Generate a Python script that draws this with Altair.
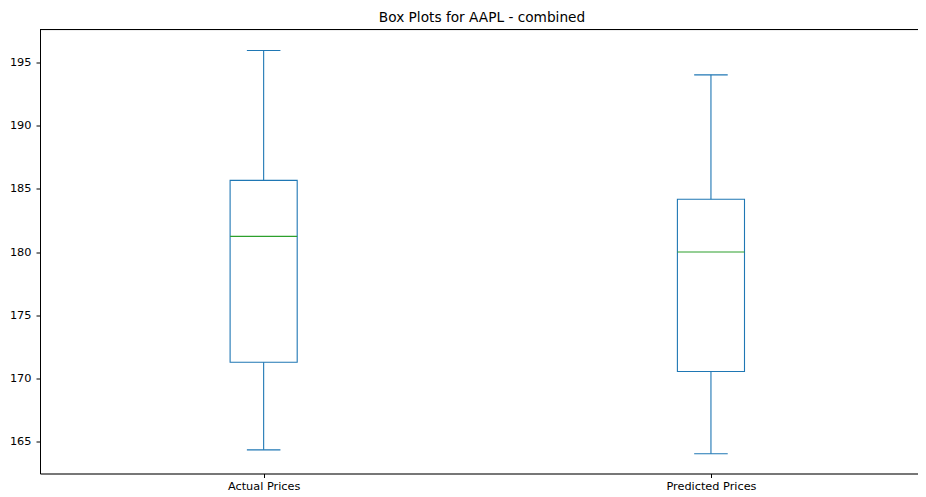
import altair as alt
import pandas as pd

# Data
categories = ["Actual Prices", "Predicted Prices"]
positions = [1, 2]
whisker_low = [164.34, 164.03]
q1 = [171.28, 170.54]
median = [181.24, 180.00]
q3 = [185.67, 184.17]
whisker_high = [195.95, 194.02]

y_ticks = [165, 170, 175, 180, 185, 190, 195]

BOX_HALF = 0.075
CAP_HALF = 0.0375

df = pd.DataFrame({
    "name": categories,
    "pos": positions,
    "low": whisker_low,
    "q1": q1,
    "median": median,
    "q3": q3,
    "high": whisker_high,
})

BLUE = "#1f77b4"
GREEN = "#2ca02c"
FONT = "DejaVu Sans"

W = 878
H = 444

xscale = alt.Scale(domain=[0.5, 0.5 + W / 447.3], nice=False, zero=False)
yscale = alt.Scale(domain=[162.47, 197.61], nice=False, zero=False)

label_expr = "datum.value == 1 ? 'Actual Prices' : (datum.value == 2 ? 'Predicted Prices' : '')"

xaxis = alt.Axis(values=positions, labelExpr=label_expr, title=None, grid=False,
                 domainColor="black", tickColor="black", tickSize=4, labelPadding=3,
                 labelFont=FONT, labelFontSize=11.3, labelColor="black", labelAngle=0)
yaxis = alt.Axis(values=y_ticks, title=None, grid=False,
                 domainColor="black", tickColor="black", tickSize=4, labelPadding=5,
                 labelFont=FONT, labelFontSize=11.3, labelColor="black")

base = alt.Chart(df).transform_calculate(
    bx1=f"datum.pos - {BOX_HALF}", bx2=f"datum.pos + {BOX_HALF}",
    cx1=f"datum.pos - {CAP_HALF}", cx2=f"datum.pos + {CAP_HALF}",
)

whisk_lo = base.mark_rule(color=BLUE, strokeWidth=1.1).encode(
    x=alt.X("pos:Q", scale=xscale, axis=xaxis),
    y=alt.Y("low:Q", scale=yscale, axis=yaxis),
    y2="q1:Q",
)
whisk_hi = base.mark_rule(color=BLUE, strokeWidth=1.1).encode(
    x=alt.X("pos:Q", scale=xscale), y=alt.Y("q3:Q", scale=yscale), y2="high:Q",
)
cap_lo = base.mark_rule(color=BLUE, strokeWidth=1.1).encode(
    x=alt.X("cx1:Q", scale=xscale), x2="cx2:Q", y=alt.Y("low:Q", scale=yscale),
)
cap_hi = base.mark_rule(color=BLUE, strokeWidth=1.1).encode(
    x=alt.X("cx1:Q", scale=xscale), x2="cx2:Q", y=alt.Y("high:Q", scale=yscale),
)
box = base.mark_rect(fill=None, fillOpacity=0, stroke=BLUE, strokeWidth=1.1).encode(
    x=alt.X("bx1:Q", scale=xscale), x2="bx2:Q",
    y=alt.Y("q1:Q", scale=yscale), y2="q3:Q",
)
med = base.mark_rule(color=GREEN, strokeWidth=1.1).encode(
    x=alt.X("bx1:Q", scale=xscale), x2="bx2:Q", y=alt.Y("median:Q", scale=yscale),
)
top_frame = alt.Chart(df).mark_rule(color="black", strokeWidth=1).encode(
    x=alt.value(0), x2=alt.value(W), y=alt.value(0),
)

chart = alt.layer(whisk_lo, whisk_hi, cap_lo, cap_hi, box, med, top_frame).properties(
    width=W, height=H,
    title=alt.TitleParams("Box Plots for AAPL - combined", font=FONT, fontSize=13.7,
                          fontWeight="normal", color="black", anchor="middle",
                          baseline="alphabetic", offset=7, dx=3, dy=14),
    autosize=alt.AutoSizeParams(type="none"),
    padding={"left": 32, "top": 21.5, "right": 0, "bottom": 21},
).configure_view(stroke=None).configure(background="white")

chart.save("out.html", embed_options={"renderer": "svg", "actions": False})
